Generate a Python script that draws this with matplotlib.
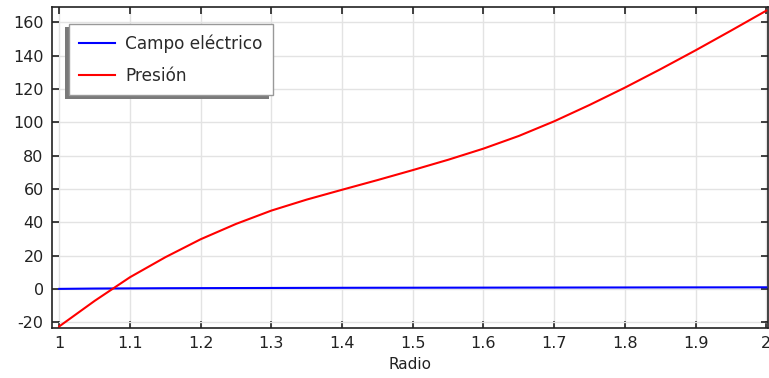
import matplotlib
matplotlib.use("Agg")
import matplotlib.pyplot as plt
from matplotlib.patches import Rectangle
from matplotlib.transforms import IdentityTransform

# Radius samples and the two quantities plotted against them
radio = [1.00, 1.05, 1.10, 1.15, 1.20, 1.25, 1.30, 1.35, 1.40, 1.45, 1.50,
         1.55, 1.60, 1.65, 1.70, 1.75, 1.80, 1.85, 1.90, 1.95, 2.00]
presion = [-22.5, -7.2, 7.0, 19.0, 29.8, 39.0, 47.0, 53.6, 59.5, 65.3, 71.3,
           77.5, 84.2, 91.8, 100.6, 110.4, 120.8, 131.8, 143.2, 155.0, 167.0]
campo = [0.0, 0.2, 0.3, 0.4, 0.45, 0.5, 0.55, 0.6, 0.65, 0.68, 0.7,
         0.73, 0.75, 0.78, 0.8, 0.83, 0.85, 0.88, 0.9, 0.92, 0.95]

xticks = [1, 1.1, 1.2, 1.3, 1.4, 1.5, 1.6, 1.7, 1.8, 1.9, 2]
xticklabels = ["1", "1.1", "1.2", "1.3", "1.4", "1.5", "1.6", "1.7", "1.8", "1.9", "2"]
yticks = [-20, 0, 20, 40, 60, 80, 100, 120, 140, 160]

plt.rcParams["font.family"] = ["DejaVu Sans"]
plt.rcParams["axes.unicode_minus"] = False
fig = plt.figure(figsize=(7.69, 3.78), dpi=100)
ax = fig.add_axes([52 / 769, 1 - 327.7 / 378, 716 / 769, (327.7 - 7) / 378])

ax.plot(radio, campo, color="#0000ff", lw=1.5, label="Campo eléctrico", zorder=3)
ax.plot(radio, presion, color="#ff0000", lw=1.5, label="Presión", zorder=3)

ax.set_xlim(0.9897, 2.0024)
ax.set_ylim(-23.3, 169.2)
ax.set_xticks(xticks)
ax.set_xticklabels(xticklabels)
ax.set_yticks(yticks)
ax.grid(True, color="#e3e3e3", lw=1.0, zorder=0)
ax.tick_params(direction="in", length=5, width=1.2, top=True, right=True,
               labelsize=11.5, colors="#222222", pad=6)
for s in ax.spines.values():
    s.set_linewidth(1.2)
    s.set_color("#222222")
ax.set_xlabel("Radio", fontsize=11, color="#222222", labelpad=4)

leg = ax.legend(loc="upper left", bbox_to_anchor=(0.0237, 0.947), borderaxespad=0,
                fontsize=12.2, frameon=True, fancybox=False, framealpha=1,
                edgecolor="#999999", handlelength=2.1, handletextpad=0.6,
                labelspacing=0.82, borderpad=0.62)
leg.get_frame().set_linewidth(1.0)
for t in leg.get_texts():
    t.set_color("#2a2a2a")
leg.set_zorder(6)

# drop shadow to the lower left of the legend box
fig.canvas.draw()
bb = leg.get_window_extent()
shadow = Rectangle((bb.x0 - 4, bb.y0 - 3.5), bb.width, bb.height,
                   transform=IdentityTransform(), facecolor="#7a7a7a",
                   edgecolor="none", zorder=5.5, clip_on=False)
ax.add_artist(shadow)

fig.savefig("out.png", dpi=100)
